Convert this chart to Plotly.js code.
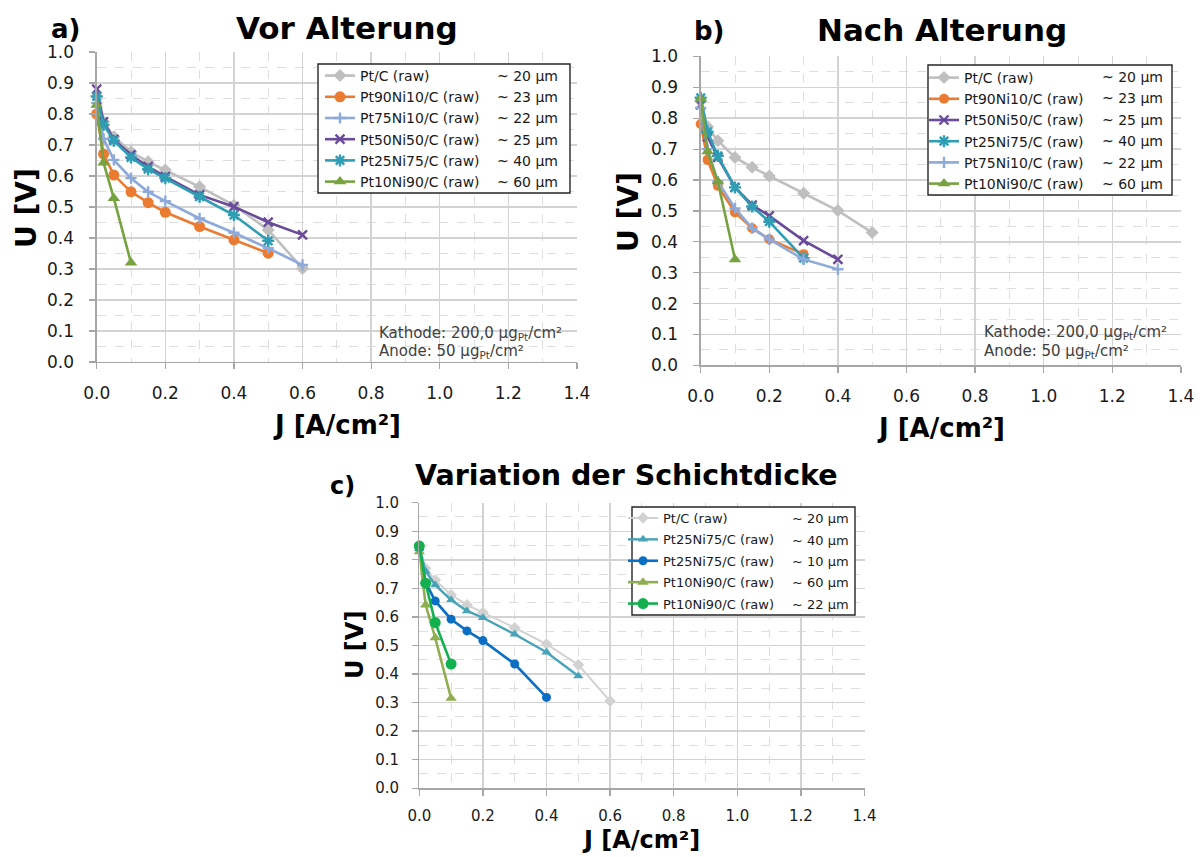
<!DOCTYPE html>
<html>
<head>
<meta charset="utf-8">
<script src="https://cdn.plot.ly/plotly-3.0.1.min.js"></script>
<style>html,body{margin:0;padding:0;background:#fff;}#chart{width:1201px;height:857px;}</style>
</head>
<body>
<div id="chart"></div>
<script>
// ---------------- DATA ----------------
// Panel a) Vor Alterung
const aJ_PtC  = [0, 0.02, 0.05, 0.1, 0.15, 0.2, 0.3, 0.4, 0.5, 0.6];
const aU_PtC  = [0.856, 0.775, 0.727, 0.678, 0.646, 0.619, 0.565, 0.506, 0.426, 0.302];
const aJ_Pt90 = [0, 0.02, 0.05, 0.1, 0.15, 0.2, 0.3, 0.4, 0.5];
const aU_Pt90 = [0.800, 0.671, 0.603, 0.549, 0.514, 0.483, 0.437, 0.394, 0.351];
const aJ_Pt75 = [0, 0.02, 0.05, 0.1, 0.15, 0.2, 0.3, 0.4, 0.5, 0.6];
const aU_Pt75 = [0.835, 0.720, 0.652, 0.593, 0.549, 0.519, 0.463, 0.417, 0.367, 0.313];
const aJ_Pt50 = [0, 0.02, 0.05, 0.1, 0.15, 0.2, 0.3, 0.4, 0.5, 0.6];
const aU_Pt50 = [0.880, 0.775, 0.718, 0.668, 0.630, 0.598, 0.539, 0.501, 0.451, 0.410];
const aJ_Pt25 = [0, 0.02, 0.05, 0.1, 0.15, 0.2, 0.3, 0.4, 0.5];
const aU_Pt25 = [0.857, 0.765, 0.714, 0.660, 0.622, 0.593, 0.533, 0.474, 0.391];
const aJ_Pt10 = [0, 0.02, 0.05, 0.1];
const aU_Pt10 = [0.829, 0.643, 0.528, 0.320];

// Panel b) Nach Alterung
const bJ_PtC  = [0, 0.02, 0.05, 0.1, 0.15, 0.2, 0.3, 0.4, 0.5];
const bU_PtC  = [0.855, 0.772, 0.727, 0.673, 0.641, 0.613, 0.557, 0.501, 0.430];
const bJ_Pt90 = [0, 0.02, 0.05, 0.1, 0.15, 0.2, 0.3];
const bU_Pt90 = [0.781, 0.665, 0.581, 0.495, 0.444, 0.408, 0.360];
const bJ_Pt50 = [0, 0.02, 0.05, 0.1, 0.15, 0.2, 0.3, 0.4];
const bU_Pt50 = [0.843, 0.740, 0.673, 0.576, 0.519, 0.484, 0.404, 0.343];
const bJ_Pt25 = [0, 0.02, 0.05, 0.1, 0.15, 0.2, 0.3];
const bU_Pt25 = [0.866, 0.756, 0.678, 0.576, 0.514, 0.465, 0.347];
const bJ_Pt75 = [0, 0.02, 0.05, 0.1, 0.15, 0.2, 0.3, 0.4];
const bU_Pt75 = [0.833, 0.700, 0.595, 0.508, 0.444, 0.408, 0.343, 0.311];
const bJ_Pt10 = [0, 0.02, 0.05, 0.1];
const bU_Pt10 = [0.864, 0.692, 0.595, 0.343];

// Panel c) Variation der Schichtdicke
const cJ_PtC    = [0, 0.02, 0.05, 0.1, 0.15, 0.2, 0.3, 0.4, 0.5, 0.6];
const cU_PtC    = [0.850, 0.770, 0.729, 0.677, 0.642, 0.615, 0.562, 0.505, 0.432, 0.305];
const cJ_Pt25_40 = [0, 0.02, 0.05, 0.1, 0.15, 0.2, 0.3, 0.4, 0.5];
const cU_Pt25_40 = [0.840, 0.760, 0.712, 0.659, 0.621, 0.597, 0.539, 0.476, 0.393];
const cJ_Pt25_10 = [0, 0.02, 0.05, 0.1, 0.15, 0.2, 0.3, 0.4];
const cU_Pt25_10 = [0.840, 0.720, 0.656, 0.592, 0.551, 0.517, 0.435, 0.318];
const cJ_Pt10_60 = [0, 0.02, 0.05, 0.1];
const cU_Pt10_60 = [0.828, 0.642, 0.527, 0.315];
const cJ_Pt10_22 = [0, 0.02, 0.05, 0.1];
const cU_Pt10_22 = [0.848, 0.718, 0.580, 0.435];

// Legend labels and layer thickness labels
const aNames = ['Pt/C (raw)', 'Pt90Ni10/C (raw)', 'Pt75Ni10/C (raw)', 'Pt50Ni50/C (raw)', 'Pt25Ni75/C (raw)', 'Pt10Ni90/C (raw)'];
const aThick = ['~ 20 µm', '~ 23 µm', '~ 22 µm', '~ 25 µm', '~ 40 µm', '~ 60 µm'];
const bNames = ['Pt/C (raw)', 'Pt90Ni10/C (raw)', 'Pt50Ni50/C (raw)', 'Pt25Ni75/C (raw)', 'Pt75Ni10/C (raw)', 'Pt10Ni90/C (raw)'];
const bThick = ['~ 20 µm', '~ 23 µm', '~ 25 µm', '~ 40 µm', '~ 22 µm', '~ 60 µm'];
const cNames = ['Pt/C (raw)', 'Pt25Ni75/C (raw)', 'Pt25Ni75/C (raw)', 'Pt10Ni90/C (raw)', 'Pt10Ni90/C (raw)'];
const cThick = ['~ 20 µm', '~ 40 µm', '~ 10 µm', '~ 60 µm', '~ 22 µm'];

// ---------------- STYLE ----------------
const W = 1201, H = 857;
const px = v => v / W;
const py = v => 1 - v / H;
const FONT = 'DejaVu Sans, Verdana, sans-serif';

const C = {
  gray: '#bfbfbf', orange: '#ea7b31', lblue: '#8eaadb', purple: '#6a4a9a',
  teal: '#2f9db4', green: '#76a23f',
  cgray: '#d2d2d2', cteal: '#49a3b8', cblue: '#0a6fc4', colive: '#8fae4f', cgreen: '#12b04e'
};

function tr(x, y, name, color, symbol, msize, xa, ya, leg, opts) {
  opts = opts || {};
  const lineMarker = symbol.indexOf('x') === 0 || symbol.indexOf('cross') === 0 || symbol.indexOf('asterisk') === 0;
  const t = {
    type: 'scatter', mode: 'lines+markers', x: x, y: y, name: name,
    xaxis: xa, yaxis: ya, legend: leg,
    line: {color: color, width: opts.lw || 2.6},
    marker: {symbol: symbol, size: msize, color: color,
             line: {color: color, width: lineMarker ? (opts.mlw || 2.4) : 0}},
    cliponaxis: false
  };
  if (opts.group) t.legendgroup = opts.group;
  return t;
}

const traces = [
  // a
  tr(aJ_PtC,  aU_PtC,  aNames[0], C.gray,   'diamond',        10, 'x',  'y',  'legend'),
  tr(aJ_Pt90, aU_Pt90, aNames[1], C.orange, 'circle',         11, 'x',  'y',  'legend'),
  tr(aJ_Pt75, aU_Pt75, aNames[2], C.lblue,  'cross-thin',     8,  'x',  'y',  'legend'),
  tr(aJ_Pt50, aU_Pt50, aNames[3], C.purple, 'x-thin',         9,  'x',  'y',  'legend'),
  tr(aJ_Pt25, aU_Pt25, aNames[4], C.teal,   'asterisk',       10, 'x',  'y',  'legend'),
  tr(aJ_Pt10, aU_Pt10, aNames[5], C.green,  'triangle-up',    11, 'x',  'y',  'legend'),
  // b
  tr(bJ_PtC,  bU_PtC,  bNames[0], C.gray,   'diamond',        10, 'x2', 'y2', 'legend2'),
  tr(bJ_Pt90, bU_Pt90, bNames[1], C.orange, 'circle',         10, 'x2', 'y2', 'legend2'),
  tr(bJ_Pt50, bU_Pt50, bNames[2], C.purple, 'x-thin',         9,  'x2', 'y2', 'legend2'),
  tr(bJ_Pt25, bU_Pt25, bNames[3], C.teal,   'asterisk',       10, 'x2', 'y2', 'legend2'),
  tr(bJ_Pt75, bU_Pt75, bNames[4], C.lblue,  'cross-thin',     8,  'x2', 'y2', 'legend2'),
  tr(bJ_Pt10, bU_Pt10, bNames[5], C.green,  'triangle-up',    11, 'x2', 'y2', 'legend2'),
  // c
  tr(cJ_PtC,     cU_PtC,     cNames[0], C.cgray,  'diamond',     9,  'x3', 'y3', 'legend3', {lw: 2,   group: 'c1'}),
  tr(cJ_Pt25_40, cU_Pt25_40, cNames[1], C.cteal,  'triangle-up', 9,  'x3', 'y3', 'legend3', {lw: 2.4, group: 'c2'}),
  tr(cJ_Pt25_10, cU_Pt25_10, cNames[2], C.cblue,  'circle',      9,  'x3', 'y3', 'legend3', {lw: 2.6, group: 'c3'}),
  tr(cJ_Pt10_60, cU_Pt10_60, cNames[3], C.colive, 'triangle-up', 10, 'x3', 'y3', 'legend3', {lw: 2.6, group: 'c4'}),
  tr(cJ_Pt10_22, cU_Pt10_22, cNames[4], C.cgreen, 'circle',      11, 'x3', 'y3', 'legend3', {lw: 2.6, group: 'c5'})
];

function xAxis(x0, x1, anchor, fs, standoff) {
  return {
    domain: [px(x0), px(x1)], anchor: anchor, range: [0, 1.4],
    tick0: 0, dtick: 0.2, tickformat: '.1f',
    ticks: 'outside', ticklen: 6, tickcolor: '#a6a6a6', tickwidth: 1.2,
    ticklabelstandoff: standoff,
    showline: true, linecolor: '#a6a6a6', linewidth: 1.3,
    showgrid: true, gridcolor: '#d3d3d3', gridwidth: 1.5, zeroline: false,
    minor: {tick0: 0, dtick: 0.1, showgrid: true, gridcolor: '#dedede', gridwidth: 1, griddash: 'dash', ticks: ''},
    tickfont: {family: FONT, size: fs, color: '#1a1a1a'},
    fixedrange: true, automargin: false
  };
}
function yAxis(y0, y1, anchor, fs, standoff) {
  return {
    domain: [py(y1), py(y0)], anchor: anchor, range: [0, 1.0],
    tick0: 0, dtick: 0.1, tickformat: '.1f',
    ticks: 'outside', ticklen: 6, tickcolor: '#a6a6a6', tickwidth: 1.2,
    ticklabelstandoff: standoff,
    showline: true, linecolor: '#a6a6a6', linewidth: 1.3,
    showgrid: true, gridcolor: '#d3d3d3', gridwidth: 1.5, zeroline: false,
    minor: {tick0: 0, dtick: 0.05, showgrid: true, gridcolor: '#dedede', gridwidth: 1, griddash: 'dash', ticks: ''},
    tickfont: {family: FONT, size: fs, color: '#1a1a1a'},
    fixedrange: true, automargin: false
  };
}

// panel geometry (pixels)
const PA = {x0: 96.7, x1: 576.9, y0: 52, y1: 362};
const PB = {x0: 700.7, x1: 1180.9, y0: 56.4, y1: 365.4};
const PC = {x0: 419.3, x1: 864.5, y0: 502.7, y1: 788.2};

function txt(x, y, text, size, opts) {
  opts = opts || {};
  return {
    xref: 'paper', yref: 'paper', x: px(x), y: py(y), text: text, showarrow: false,
    xanchor: opts.xanchor || 'center', yanchor: 'middle', textangle: opts.angle || 0,
    font: {family: FONT, size: size, color: opts.color || '#000'}
  };
}

const annotations = [
  // panel titles
  txt(65, 29, '<b>a)</b>', 26),
  txt(347, 28, '<b>Vor Alterung</b>', 31),
  txt(710, 31, '<b>b)</b>', 26),
  txt(942, 30, '<b>Nach Alterung</b>', 31),
  txt(342, 486, '<b>c)</b>', 24),
  txt(626, 475, '<b>Variation der Schichtdicke</b>', 28.5),
  // axis titles
  txt(26, 208, '<b>U [V]</b>', 28, {angle: -90}),
  txt(337, 425, '<b>J [A/cm²]</b>', 26),
  txt(629, 212, '<b>U [V]</b>', 28, {angle: -90}),
  txt(941, 428, '<b>J [A/cm²]</b>', 26),
  txt(355, 645, '<b>U [V]</b>', 24, {angle: -90}),
  txt(641, 840, '<b>J [A/cm²]</b>', 24),
  // loading notes
  txt(377, 333, 'Kathode: 200,0 µg<sub>Pt</sub>/cm²', 15, {xanchor: 'left', color: '#404040'}),
  txt(377, 351, 'Anode: 50 µg<sub>Pt</sub>/cm²', 15, {xanchor: 'left', color: '#404040'}),
  txt(982, 332, 'Kathode: 200,0 µg<sub>Pt</sub>/cm²', 15, {xanchor: 'left', color: '#404040'}),
  txt(982, 351, 'Anode: 50 µg<sub>Pt</sub>/cm²', 15, {xanchor: 'left', color: '#404040'})
];

// thickness column next to legends
const aRows = [76, 97, 118, 140, 161, 182];
const bRows = [77, 98, 120, 141, 163, 184];
const cRows = [518, 540, 561, 582, 604];
aThick.forEach((t, i) => annotations.push(txt(495, aRows[i], t, 14, {xanchor: 'left', color: '#1a1a1a'})));
bThick.forEach((t, i) => annotations.push(txt(1100, bRows[i], t, 14, {xanchor: 'left', color: '#1a1a1a'})));
cThick.forEach((t, i) => annotations.push(txt(790, cRows[i], t, 13, {xanchor: 'left', color: '#1a1a1a'})));

function box(x0, y0, x1, y1) {
  return {type: 'rect', xref: 'paper', yref: 'paper', x0: px(x0), x1: px(x1), y0: py(y1), y1: py(y0),
          fillcolor: '#ffffff', line: {color: '#262626', width: 1.4}, layer: 'above'};
}

function leg(left, top, fs, gap, order) {
  return {x: px(left), y: py(top), xanchor: 'left', yanchor: 'top',
          bgcolor: 'rgba(0,0,0,0)', borderwidth: 0, tracegroupgap: gap || 0,
          font: {family: FONT, size: fs, color: '#1a1a1a'}, traceorder: order || 'normal'};
}

const layout = {
  width: W, height: H, margin: {l: 0, r: 0, t: 0, b: 0},
  paper_bgcolor: '#ffffff', plot_bgcolor: '#ffffff',
  showlegend: true,
  xaxis: xAxis(PA.x0, PA.x1, 'y', 17, 9),
  yaxis: yAxis(PA.y0, PA.y1, 'x', 17, 12),
  xaxis2: xAxis(PB.x0, PB.x1, 'y2', 17, 9),
  yaxis2: yAxis(PB.y0, PB.y1, 'x2', 17, 12),
  xaxis3: xAxis(PC.x0, PC.x1, 'y3', 15, 7),
  yaxis3: yAxis(PC.y0, PC.y1, 'x3', 15, 10),
  legend: leg(320, 60, 14),
  legend2: leg(924, 62, 14),
  legend3: leg(623, 503, 13, 1.5, 'grouped'),
  shapes: [box(318, 64, 570, 193), box(928, 65, 1172, 195), box(632, 507, 855, 615)],
  annotations: annotations
};

Plotly.newPlot('chart', traces, layout, {staticPlot: true, displayModeBar: false});
</script>
</body>
</html>
